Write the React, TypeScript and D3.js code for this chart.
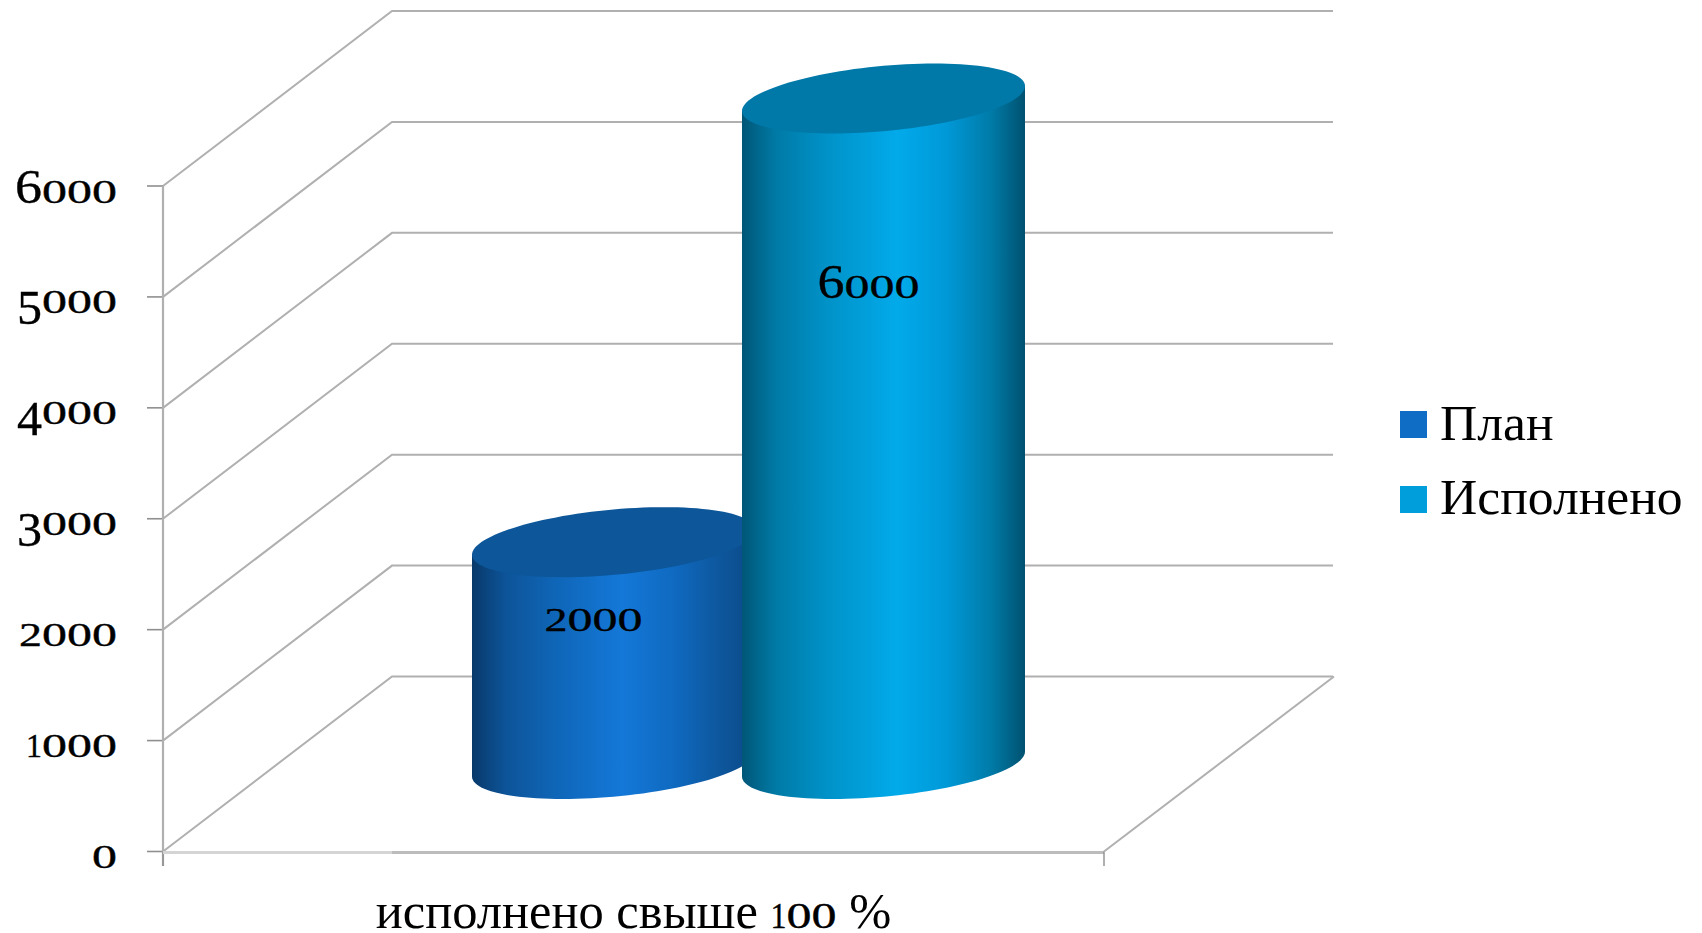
import React from "react";
import * as d3 from "d3";

const seriesNames = ["План", "Исполнено"];
const seriesValues = [2000, 6000];
const labelFractions = [0.6, 0.7];
const labelShift = [-20, -15];
const yTicks = [0, 1000, 2000, 3000, 4000, 5000, 6000];
const categoryWords = ["исполнено свыше ", "100", " %"];
const bodyStops = [
  [[0, "#08396a"], [0.12, "#0d5499"], [0.3, "#0f66b8"], [0.53, "#1478d8"], [0.72, "#0f69bf"], [0.9, "#0d5498"], [1, "#0a4a88"]],
  [[0, "#005676"], [0.12, "#007aa6"], [0.3, "#0092c8"], [0.55, "#02aaea"], [0.72, "#0099d8"], [0.88, "#007ba8"], [1, "#00516f"]],
];
const topColors = ["#0c5699", "#0079a8"];
const swatchColors = ["#106dc6", "#009fdc"];
const digitWidths: Record<string, number> = { "0": 25, "1": 16, "2": 23, "3": 25, "4": 25, "5": 25, "6": 27 };

const W = 1702, H = 933;
const y = d3.scaleLinear().domain([0, 6000]).range([851.5, 186]);
const x = d3.scalePoint<string>().domain(seriesNames).range([613.5, 883.5]);
const frontLeft = 163, frontRight = 1104, depthX = 229, depthY = -175;
const rx = 141.5, slant = -12.5, ry = 32.7, baseY = 764;
const ticks = d3.range(0, 61);

const ell = (cx: number, cy: number, t: number): [number, number] => [
  cx + rx * Math.cos(t),
  cy + slant * Math.cos(t) + ry * Math.sin(t),
];
const line = d3.line();

function digitSpans(s: string, size: number) {
  // old-style figures: 0,1,2 at x-height, 3,4,5 descending, 6 ascending
  let shift = 0;
  return s.split("").map((c, i) => {
    const desc = "345".includes(c);
    const big = desc || c === "6";
    const target = desc ? 11 : 0;
    const dy = target - shift;
    shift = target;
    return (
      <tspan
        key={i}
        dy={dy}
        fontSize={big ? size : size * 0.69}
        textLength={digitWidths[c]}
        lengthAdjust="spacingAndGlyphs"
        stroke="#000"
        strokeWidth={0.35}
      >
        {c}
      </tspan>
    );
  });
}

function OldNum({ s, xPos, yPos, anchor = "end" }: any) {
  return (
    <text x={xPos} y={yPos} textAnchor={anchor} fontFamily="'Liberation Serif'" fill="#000">
      {digitSpans(s, 49)}
    </text>
  );
}

export default function App() {
  const serif = "'Liberation Serif'";
  return (
    <svg width={W} height={H} style={{ position: "fixed", left: 0, top: 0, background: "#fff" }}>
      <defs>
        {seriesNames.map((n, i) => (
          <linearGradient key={n} id={`body${i}`} x1="0" x2="1" y1="0" y2="0">
            {bodyStops[i].map((st: any) => (
              <stop key={st[0]} offset={st[0]} stopColor={st[1]} />
            ))}
          </linearGradient>
        ))}
      </defs>

      {yTicks.map((t) => (
        <g key={t} stroke="#b0b0b0" strokeWidth={2} fill="none">
          <path
            d={line([
              [frontLeft, y(t)],
              [frontLeft + depthX, y(t) + depthY],
              [frontLeft + depthX + (frontRight - frontLeft), y(t) + depthY],
            ])!}
          />
          <line x1={147} x2={frontLeft} y1={y(t)} y2={y(t)} stroke="#8f8f8f" strokeWidth={1.6} />
        </g>
      ))}
      <line x1={frontLeft} x2={frontLeft} y1={y(6000)} y2={866} stroke="#b0b0b0" strokeWidth={2.2} />
      <line x1={frontLeft} x2={frontLeft} y1={y(0)} y2={866} stroke="#8f8f8f" strokeWidth={1.4} />
      <line x1={frontLeft} x2={frontLeft + depthX} y1={y(0) + 1} y2={y(0) + 1} stroke="#d4d4d4" strokeWidth={3} />
      <line x1={frontLeft + depthX} x2={frontRight} y1={y(0) + 1} y2={y(0) + 1} stroke="#bcbcbc" strokeWidth={3} />
      <line x1={frontRight} x2={frontRight} y1={y(0)} y2={866} stroke="#8f8f8f" strokeWidth={1.4} />
      <line
        x1={frontRight}
        x2={frontRight + depthX + 1}
        y1={y(0)}
        y2={y(0) + depthY}
        stroke="#b0b0b0"
        strokeWidth={2}
      />

      {yTicks.map((t) => (
        <OldNum key={t} s={String(t)} xPos={117} yPos={y(t) + 16.5} />
      ))}

      {seriesNames.map((n, i) => {
        const cx = x(n)!;
        const h = y(0) - y(seriesValues[i]);
        const topY = baseY - h;
        const front = ticks.map((k) => ell(cx, baseY, Math.PI - (k / 60) * Math.PI));
        const body: [number, number][] = [ell(cx, topY, Math.PI), ...front, ell(cx, topY, 0)];
        const top = d3.range(0, 121).map((k) => ell(cx, topY, (k / 120) * 2 * Math.PI));
        return (
          <g key={n}>
            <path d={line(body)! + "Z"} fill={`url(#body${i})`} />
            <path d={line(top)! + "Z"} fill={topColors[i]} />
          </g>
        );
      })}

      {seriesNames.map((n, i) => (
        <OldNum
          key={n}
          s={String(seriesValues[i])}
          xPos={x(n)! + labelShift[i]}
          yPos={baseY - (y(0) - y(seriesValues[i])) * labelFractions[i]}
          anchor="middle"
        />
      ))}

      {seriesNames.map((n, i) => (
        <g key={n}>
          <rect x={1400} y={411 + i * 75} width={27} height={27} fill={swatchColors[i]} />
          <text x={1440} y={440 + i * 74} fontFamily={serif} fontSize={51.6} fill="#000">
            {n}
          </text>
        </g>
      ))}

      <text x={633.5} y={928} textAnchor="middle" fontFamily={serif} fontSize={50.5} fill="#000">
        <tspan>{categoryWords[0]}</tspan>
        {digitSpans(categoryWords[1], 52)}
        <tspan>{categoryWords[2]}</tspan>
      </text>
    </svg>
  );
}
